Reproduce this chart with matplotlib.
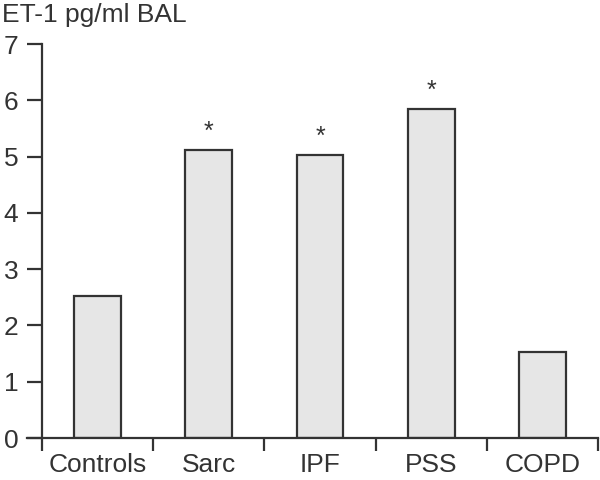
import numpy as np
import matplotlib.pyplot as plt

plt.rcParams["font.family"] = ["Liberation Sans", "DejaVu Sans"]

groups = ["Controls", "Sarc", "IPF", "PSS", "COPD"]
et1 = [2.52, 5.12, 5.03, 5.84, 1.52]
signif = [False, True, True, True, False]

ink = "#333333"
fig = plt.figure(figsize=(6, 4.8), dpi=100)
ax = fig.add_axes([0.07, 0.0875, 0.927, 0.8205])

x = np.arange(len(groups))
ax.bar(x, et1, width=0.42, color="#e6e6e6", edgecolor=ink, linewidth=1.6, zorder=2)
for xi, v, s in zip(x, et1, signif):
    if s:
        ax.text(xi, v + 0.2, "*", ha="center", va="baseline", fontsize=18, color=ink)

ax.set_xlim(-0.5, len(groups) - 0.5)
ax.set_ylim(0, 7)
ax.set_yticks(range(8))
ax.set_xticks(np.arange(-0.5, len(groups)), [])
ax.set_xticks(x, groups, minor=True)
ax.tick_params(axis="x", which="major", direction="out", length=9, width=1.6, color=ink)
ax.tick_params(axis="x", which="minor", length=0, pad=11, labelsize=19, labelcolor=ink)
ax.tick_params(axis="y", direction="out", length=11, width=1.6, color=ink, pad=6,
               labelsize=19, labelcolor=ink)
for side in ["top", "right"]:
    ax.spines[side].set_visible(False)
for side in ["left", "bottom"]:
    ax.spines[side].set_color(ink)
    ax.spines[side].set_linewidth(1.6)
ax.spines["bottom"].set_bounds(-0.5 - 15 / 111.2, len(groups) - 0.5)

fig.text(0.003, 0.955, "ET-1 pg/ml BAL", fontsize=19, color=ink, ha="left", va="baseline")

fig.savefig("out.png", dpi=100)
